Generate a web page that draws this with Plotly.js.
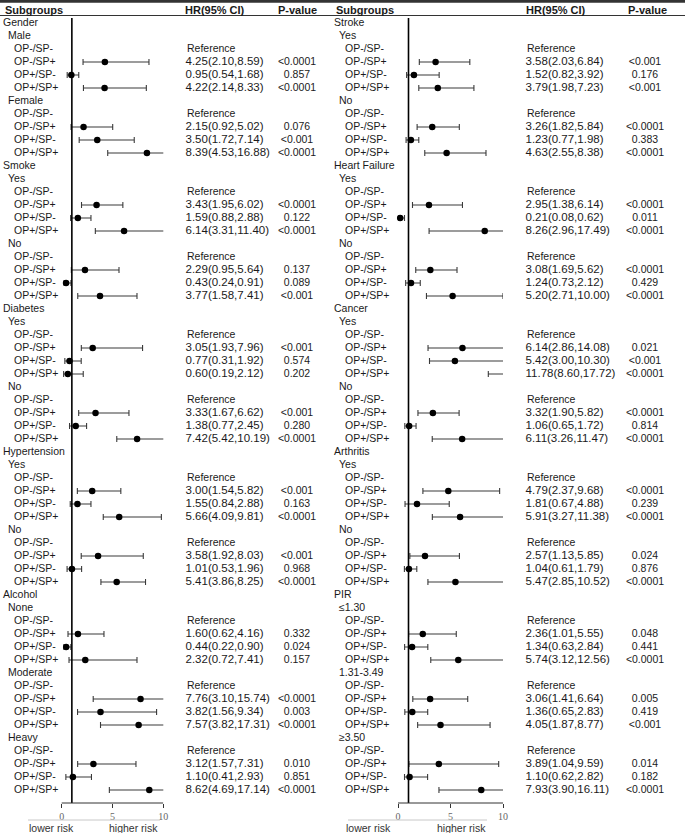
<!DOCTYPE html>
<html><head><meta charset="utf-8">
<script src="https://cdn.plot.ly/plotly-3.0.1.min.js"></script>
<style>html,body{margin:0;padding:0;background:#fff}#chart{width:685px;height:833px}</style>
</head><body><div id="chart"></div>
<script>
// ---------- DATA ----------
const comparisons = ["OP-/SP-", "OP-/SP+", "OP+/SP-", "OP+/SP+"];
const referenceText = "Reference";

// Left panel
const leftGroups = ["Gender", "Smoke", "Diabetes", "Hypertension", "Alcohol"];
const leftSubgroups = [["Male", "Female"], ["Yes", "No"], ["Yes", "No"], ["Yes", "No"], ["None", "Moderate", "Heavy"]];
// values for OP-/SP+, OP+/SP-, OP+/SP+ within each subgroup, in order
const leftHR   = [4.25,0.95,4.22, 2.15,3.50,8.39, 3.43,1.59,6.14, 2.29,0.43,3.77, 3.05,0.77,0.60, 3.33,1.38,7.42, 3.00,1.55,5.66, 3.58,1.01,5.41, 1.60,0.44,2.32, 7.76,3.82,7.57, 3.12,1.10,8.62];
const leftLow  = [2.10,0.54,2.14, 0.92,1.72,4.53, 1.95,0.88,3.31, 0.95,0.24,1.58, 1.93,0.31,0.19, 1.67,0.77,5.42, 1.54,0.84,4.09, 1.92,0.53,3.86, 0.62,0.22,0.72, 3.10,1.56,3.82, 1.57,0.41,4.69];
const leftHigh = [8.59,1.68,8.33, 5.02,7.14,16.88, 6.02,2.88,11.40, 5.64,0.91,7.41, 7.96,1.92,2.12, 6.62,2.45,10.19, 5.82,2.88,9.81, 8.03,1.96,8.25, 4.16,0.90,7.41, 15.74,9.34,17.31, 7.31,2.93,17.14];
const leftP    = ["<0.0001","0.857","<0.0001", "0.076","<0.001","<0.0001", "<0.0001","0.122","<0.0001", "0.137","0.089","<0.001", "<0.001","0.574","0.202", "<0.001","0.280","<0.0001", "<0.001","0.163","<0.0001", "<0.001","0.968","<0.0001", "0.332","0.024","0.157", "<0.0001","0.003","<0.0001", "0.010","0.851","<0.0001"];

// Right panel
const rightGroups = ["Stroke", "Heart Failure", "Cancer", "Arthritis", "PIR"];
const rightSubgroups = [["Yes", "No"], ["Yes", "No"], ["Yes", "No"], ["Yes", "No"], ["\u22641.30", "1.31-3.49", "\u22653.50"]];
const rightHR   = [3.58,1.52,3.79, 3.26,1.23,4.63, 2.95,0.21,8.26, 3.08,1.24,5.20, 6.14,5.42,11.78, 3.32,1.06,6.11, 4.79,1.81,5.91, 2.57,1.04,5.47, 2.36,1.34,5.74, 3.06,1.36,4.05, 3.89,1.10,7.93];
const rightLow  = [2.03,0.82,1.98, 1.82,0.77,2.55, 1.38,0.08,2.96, 1.69,0.73,2.71, 2.86,3.00,8.60, 1.90,0.65,3.26, 2.37,0.67,3.27, 1.13,0.61,2.85, 1.01,0.63,3.12, 1.41,0.65,1.87, 1.04,0.62,3.90];
const rightHigh = [6.84,3.92,7.23, 5.84,1.98,8.38, 6.14,0.62,17.49, 5.62,2.12,10.00, 14.08,10.30,17.72, 5.82,1.72,11.47, 9.68,4.88,11.38, 5.85,1.79,10.52, 5.55,2.84,12.56, 6.64,2.83,8.77, 9.59,2.82,16.11];
const rightP    = ["<0.001","0.176","<0.001", "<0.0001","0.383","<0.0001", "<0.0001","0.011","<0.0001", "<0.0001","0.429","<0.0001", "0.021","<0.001","<0.0001", "<0.0001","0.814","<0.0001", "<0.0001","0.239","<0.0001", "0.024","0.876","<0.0001", "0.048","0.441","<0.0001", "0.005","0.419","<0.001", "0.014","0.182","<0.0001"];

const headers = ["Subgroups", "HR(95% CI)", "P-value"];
const tickValues = [0, 5, 10];
const riskLabels = ["lower risk", "higher risk"];

// ---------- LAYOUT CONSTANTS ----------
const W = 685, H = 833;
const rowY0 = 23, rowStep = 13;
const FONT = "Liberation Sans, Arial, sans-serif";
const NUMFONT = "Liberation Sans Narrow, Liberation Sans, Arial, sans-serif";

function buildRows(groups, subs, hr, lo, hi, p) {
  const rows = [];
  let k = 0;
  groups.forEach((g, gi) => {
    rows.push({label: g, level: 0});
    subs[gi].forEach(s => {
      rows.push({label: s, level: 1});
      comparisons.forEach((c, ci) => {
        if (ci === 0) rows.push({label: c, level: 2, ref: true});
        else { rows.push({label: c, level: 2, hr: hr[k], lo: lo[k], hi: hi[k], p: p[k]}); k++; }
      });
    });
  });
  return rows;
}

const panels = [
  {rows: buildRows(leftGroups, leftSubgroups, leftHR, leftLow, leftHigh, leftP),
   xa: 'x', lab: 3, hrX: 185.5, pX: 297, hdrHR: 215, hdrP: 297, x0: 61.7, unit: 10.16,
   risk: [51, 133], sep: [28, 160]},
  {rows: buildRows(rightGroups, rightSubgroups, rightHR, rightLow, rightHigh, rightP),
   xa: 'x2', lab: 334, hrX: 525.5, pX: 645, hdrHR: 556, hdrP: 647, x0: 398, unit: 10.5,
   risk: [368, 461], sep: [348, 487]}
];

const traces = [], annotations = [], shapes = [];
const levelIndent = [0, 5, 11];
const py = px => 1 - px / H;

panels.forEach(P => {
  const idx = P.rows.map((r, i) => i);
  // subgroup labels
  traces.push({type: 'scatter', mode: 'text', xaxis: 'x3', yaxis: 'y',
    x: P.rows.map(r => P.lab + levelIndent[r.level]), y: idx,
    text: P.rows.map(r => r.label), textposition: 'middle right',
    textfont: {family: FONT, size: 10.5, color: '#1a1a1a'}, cliponaxis: false, hoverinfo: 'skip'});
  // HR text
  const hrRows = P.rows.map((r, i) => ({r, i})).filter(o => o.r.level === 2);
  const refRows = hrRows.filter(o => o.r.ref), valRows = hrRows.filter(o => !o.r.ref);
  traces.push({type: 'scatter', mode: 'text', xaxis: 'x3', yaxis: 'y',
    x: refRows.map(() => P.hrX + 1.5), y: refRows.map(o => o.i),
    text: refRows.map(() => referenceText), textposition: 'middle right',
    textfont: {family: FONT, size: 10.5, color: '#1a1a1a'}, cliponaxis: false, hoverinfo: 'skip'});
  traces.push({type: 'scatter', mode: 'text', xaxis: 'x3', yaxis: 'y',
    x: valRows.map(() => P.hrX), y: valRows.map(o => o.i),
    text: valRows.map(o => o.r.hr.toFixed(2) + '(' + o.r.lo.toFixed(2) + ',' + o.r.hi.toFixed(2) + ')'),
    textposition: 'middle right',
    textfont: {family: NUMFONT, size: 11.5, color: '#1a1a1a'}, cliponaxis: false, hoverinfo: 'skip'});
  traces.push({type: 'scatter', mode: 'text', xaxis: 'x3', yaxis: 'y',
    x: valRows.map(() => P.pX), y: valRows.map(o => o.i),
    text: valRows.map(o => o.r.p), textposition: 'middle center',
    textfont: {family: FONT, size: 10.5, color: '#1a1a1a'}, cliponaxis: false, hoverinfo: 'skip'});
  // points + CIs
  traces.push({type: 'scatter', mode: 'markers', xaxis: P.xa, yaxis: 'y',
    x: valRows.map(o => o.r.hr), y: valRows.map(o => o.i),
    marker: {size: 6.5, color: '#000'},
    error_x: {type: 'data', symmetric: false,
      array: valRows.map(o => o.r.hi - o.r.hr), arrayminus: valRows.map(o => o.r.hr - o.r.lo),
      color: '#3a3a3a', thickness: 1.1, width: 3},
    cliponaxis: true, hoverinfo: 'skip'});
  // headers
  [[P.lab, headers[0], 'left'], [P.hdrHR, headers[1], 'center'], [P.hdrP, headers[2], 'center']].forEach(h => {
    annotations.push({xref: 'x3', yref: 'paper', x: h[0], y: py(9.5), text: '<b>' + h[1] + '</b>',
      showarrow: false, xanchor: h[2], yanchor: 'middle', font: {family: FONT, size: 11, color: '#1a1a1a'}});
  });
  // risk labels
  riskLabels.forEach((t, j) => {
    annotations.push({xref: 'x3', yref: 'paper', x: P.risk[j], y: py(827.5), text: t, showarrow: false,
      xanchor: 'center', yanchor: 'middle', font: {family: FONT, size: 10.5, color: '#333'}});
  });
  // reference line at HR = 1
  shapes.push({type: 'line', xref: P.xa, yref: 'paper', x0: 1, x1: 1, y0: py(18), y1: py(803),
    line: {color: '#000', width: 1.6}});
  // horizontal axis line
  shapes.push({type: 'line', xref: P.xa, yref: 'paper', x0: 0, x1: 10, y0: py(803), y1: py(803),
    line: {color: '#333', width: 1}});
  // light separator below tick labels
  shapes.push({type: 'line', xref: 'x3', yref: 'paper', x0: P.sep[0], x1: P.sep[1], y0: py(820), y1: py(820),
    line: {color: '#c8c8c8', width: 1}});
});

// header bars
shapes.push({type: 'rect', xref: 'paper', yref: 'paper', x0: 0, x1: 1, y0: py(2.8), y1: 1,
  fillcolor: '#333', line: {width: 0}});
shapes.push({type: 'line', xref: 'paper', yref: 'paper', x0: 0, x1: 1, y0: py(15.5), y1: py(15.5),
  line: {color: '#333', width: 1.2}});

function dataAxis(P) {
  return {domain: [(P.x0 - P.unit) / W, (P.x0 + 10 * P.unit) / W], range: [-1, 10],
    anchor: 'free', position: py(803), showline: false, showgrid: false, zeroline: false,
    ticks: 'outside', ticklen: 4, tickwidth: 1, tickcolor: '#333',
    tickmode: 'array', tickvals: tickValues, ticktext: tickValues.map(String),
    tickfont: {family: 'Liberation Serif, DejaVu Serif, serif', size: 10, color: '#666'}, fixedrange: true};
}

const layout = {
  width: W, height: H, margin: {l: 0, r: 0, t: 0, b: 0},
  paper_bgcolor: '#fff', plot_bgcolor: 'rgba(0,0,0,0)', showlegend: false,
  xaxis: dataAxis(panels[0]),
  xaxis2: dataAxis(panels[1]),
  xaxis3: {domain: [0, 1], range: [0, W], visible: false, anchor: 'y', fixedrange: true},
  yaxis: {domain: [0, 1], range: [(H - rowY0) / rowStep, -rowY0 / rowStep], visible: false, fixedrange: true},
  annotations, shapes
};

Plotly.newPlot('chart', traces, layout, {staticPlot: true, displayModeBar: false});
</script>
</body></html>
